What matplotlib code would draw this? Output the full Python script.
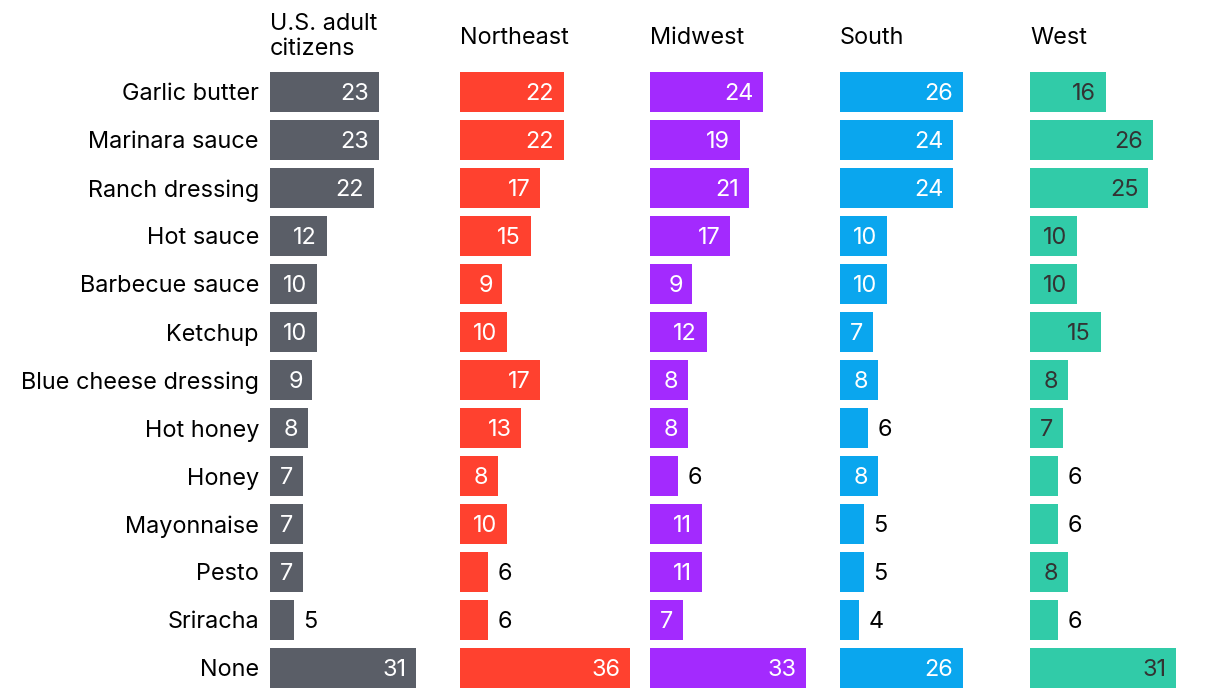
import matplotlib.pyplot as plt

# ----------------------
# DATA
# ----------------------
categories = ["Garlic butter", "Marinara sauce", "Ranch dressing", "Hot sauce",
              "Barbecue sauce", "Ketchup", "Blue cheese dressing", "Hot honey",
              "Honey", "Mayonnaise", "Pesto", "Sriracha", "None"]
panels = ["U.S. adult\ncitizens", "Northeast", "Midwest", "South", "West"]
us_adults = [23, 23, 22, 12, 10, 10, 9, 8, 7, 7, 7, 5, 31]
northeast = [22, 22, 17, 15, 9, 10, 17, 13, 8, 10, 6, 6, 36]
midwest = [24, 19, 21, 17, 9, 12, 8, 8, 6, 11, 11, 7, 33]
south = [26, 24, 24, 10, 10, 7, 8, 6, 8, 5, 5, 4, 26]
west = [16, 26, 25, 10, 10, 15, 8, 7, 6, 6, 8, 6, 31]
series = [us_adults, northeast, midwest, south, west]

colors = ["#5a5e67", "#ff412f", "#a32afe", "#0aa6ee", "#31cba8"]
inside_text = ["white", "white", "white", "white", "#333333"]

W, H = 1220, 698
plt.rcParams['font.family'] = ['Inter', 'DejaVu Sans']
fs = 16.9
fig = plt.figure(figsize=(W / 100, H / 100), dpi=100)

px_per_unit = 4.72
ax_w = 180
top, row_h = 68, 48
n = len(categories)

for i, (name, vals) in enumerate(zip(panels, series)):
    left = 270 + 190 * i
    ax = fig.add_axes([left / W, 1 - (top + n * row_h) / H, ax_w / W, n * row_h / H])
    ax.set_xlim(0, ax_w / px_per_unit)
    ax.set_ylim(n - 0.5, -0.5)
    ax.axis('off')
    ax.barh(range(n), vals, height=40 / 48, color=colors[i])
    for j, v in enumerate(vals):
        if v >= 7:
            ax.annotate(str(v), (v, j), xytext=(-7, 0), textcoords='offset points',
                        ha='right', va='center_baseline', fontsize=fs, color=inside_text[i])
        else:
            ax.annotate(str(v), (v, j), xytext=(7, 0), textcoords='offset points',
                        ha='left', va='center_baseline', fontsize=fs, color='black')
    if i == 0:
        for j, c in enumerate(categories):
            ax.annotate(c, (0, j), xytext=(-8, 0), textcoords='offset points',
                        ha='right', va='center_baseline', fontsize=fs, color='black',
                        annotation_clip=False)
        fig.text(left / W, 1 - 30 / H, "U.S. adult", ha='left', va='baseline', fontsize=fs)
        fig.text(left / W, 1 - 55 / H, "citizens", ha='left', va='baseline', fontsize=fs)
    else:
        fig.text(left / W, 1 - 44 / H, name, ha='left', va='baseline', fontsize=fs)

plt.savefig("out.png", dpi=100)
